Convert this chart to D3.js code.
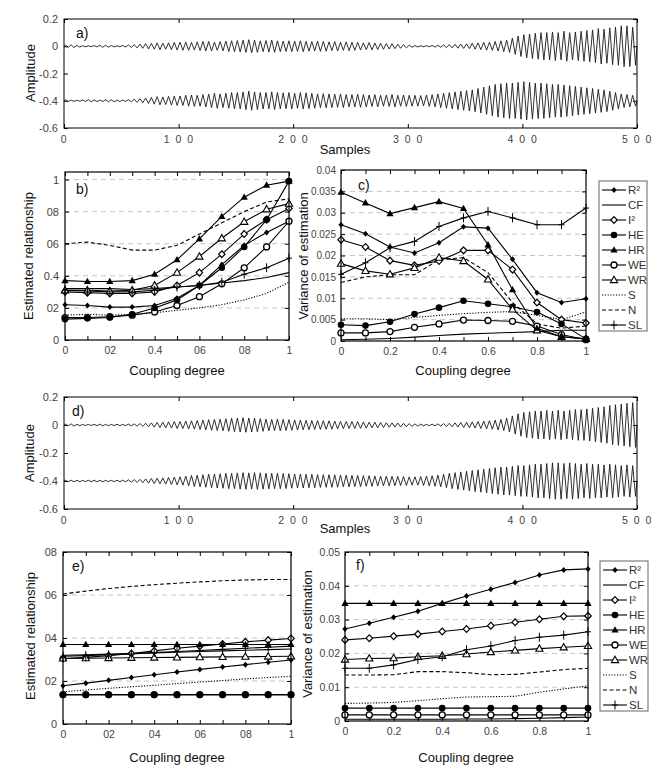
<!DOCTYPE html>
<html><head><meta charset="utf-8">
<script src="https://cdn.jsdelivr.net/npm/d3@7"></script>
<style>body{margin:0;background:#fff}</style>
</head><body>
<svg id="chart" width="672" height="776"></svg>
<script>
// ---------------- DATA ----------------
const coupling = [0,0.1,0.2,0.3,0.4,0.5,0.6,0.7,0.8,0.9,1];
const seriesNames = ["R²","CF","I²","HE","HR","WE","WR","S","N","SL"];

// waveform panels: amplitude of each oscillation cycle (5 samples per cycle)
const samplesPerCycle = 5;
const waveCenters = [0, -0.4];
const waveXTicks = [0,100,200,300,400,500];
const waveXLabels = ["0","1 0 0","2 0 0","3 0 0","4 0 0","5 0 0"];
const waveYTicks = [0.2,0,-0.2,-0.4,-0.6];
const waveYLabels = ["0.2","0","-0.2","-0.4","-0.6"];

const waveA1 = [0.008,0.01,0.006,0.004,0.003,0.005,0.008,0.007,0.005,0.004,
 0.006,0.01,0.012,0.015,0.02,0.022,0.025,0.022,0.025,0.028,
 0.03,0.03,0.028,0.032,0.035,0.035,0.03,0.034,0.038,0.04,
 0.042,0.045,0.048,0.045,0.04,0.042,0.045,0.04,0.038,0.04,
 0.038,0.04,0.036,0.034,0.038,0.036,0.032,0.035,0.03,0.032,
 0.03,0.028,0.025,0.027,0.024,0.022,0.02,0.018,0.015,0.012,
 0.008,0.005,0.004,0.004,0.006,0.008,0.01,0.012,0.014,0.016,
 0.018,0.022,0.025,0.028,0.03,0.035,0.04,0.045,0.06,0.075,
 0.085,0.09,0.095,0.1,0.1,0.105,0.1,0.11,0.1,0.105,
 0.11,0.115,0.12,0.13,0.125,0.135,0.14,0.15,0.15,0.14];
const waveA2 = [0.006,0.005,0.004,0.006,0.008,0.006,0.005,0.007,0.008,0.006,
 0.005,0.008,0.012,0.015,0.02,0.025,0.03,0.028,0.032,0.035,
 0.035,0.04,0.042,0.04,0.045,0.05,0.055,0.05,0.055,0.06,
 0.06,0.065,0.07,0.065,0.06,0.06,0.065,0.06,0.058,0.06,
 0.055,0.06,0.058,0.055,0.05,0.052,0.05,0.048,0.05,0.045,
 0.045,0.048,0.045,0.042,0.045,0.04,0.042,0.045,0.04,0.042,
 0.04,0.04,0.038,0.042,0.045,0.05,0.055,0.06,0.065,0.07,
 0.075,0.08,0.09,0.1,0.11,0.12,0.125,0.13,0.13,0.135,
 0.14,0.135,0.13,0.13,0.125,0.12,0.12,0.115,0.11,0.105,
 0.1,0.095,0.09,0.085,0.08,0.07,0.06,0.05,0.045,0.04];
const waveD1 = [0.006,0.008,0.005,0.004,0.004,0.005,0.006,0.005,0.004,0.005,
 0.005,0.006,0.008,0.01,0.012,0.015,0.018,0.02,0.022,0.025,
 0.025,0.028,0.03,0.032,0.035,0.038,0.04,0.042,0.045,0.048,
 0.05,0.052,0.05,0.048,0.045,0.042,0.04,0.042,0.04,0.038,
 0.036,0.035,0.034,0.032,0.032,0.03,0.03,0.028,0.026,0.025,
 0.025,0.024,0.022,0.02,0.02,0.018,0.016,0.015,0.014,0.012,
 0.01,0.008,0.006,0.005,0.006,0.008,0.01,0.012,0.015,0.018,
 0.02,0.022,0.025,0.028,0.03,0.035,0.04,0.05,0.065,0.08,
 0.09,0.095,0.1,0.1,0.105,0.1,0.105,0.1,0.105,0.11,
 0.11,0.115,0.12,0.125,0.13,0.14,0.145,0.15,0.155,0.16];
const waveD2 = [0.005,0.006,0.005,0.004,0.005,0.006,0.005,0.004,0.005,0.006,
 0.006,0.008,0.01,0.012,0.015,0.018,0.02,0.022,0.025,0.028,
 0.03,0.035,0.04,0.042,0.045,0.048,0.05,0.052,0.055,0.055,
 0.058,0.06,0.058,0.06,0.058,0.056,0.055,0.055,0.054,0.052,
 0.05,0.05,0.048,0.048,0.046,0.045,0.045,0.044,0.042,0.042,
 0.04,0.04,0.038,0.038,0.036,0.035,0.035,0.034,0.032,0.032,
 0.03,0.03,0.032,0.035,0.038,0.042,0.048,0.055,0.06,0.065,
 0.07,0.075,0.08,0.085,0.09,0.095,0.1,0.1,0.105,0.11,
 0.11,0.115,0.12,0.12,0.125,0.13,0.13,0.125,0.13,0.125,
 0.12,0.125,0.12,0.12,0.115,0.12,0.115,0.11,0.115,0.11];

// panel b) estimated relationship
const bYTicks = [0,0.2,0.4,0.6,0.8,1];
const bYLabels = ["0","02","0.4","06","08","1"];
const bXLabels = ["0","02","0.4","06","08","1"];
const bR2 = [0.22,0.215,0.205,0.205,0.215,0.26,0.34,0.47,0.59,0.67,0.74];
const bCF = [0.32,0.32,0.32,0.315,0.32,0.33,0.34,0.355,0.37,0.39,0.42];
const bI2 = [0.30,0.295,0.29,0.29,0.30,0.34,0.42,0.535,0.66,0.75,0.82];
const bHE = [0.13,0.135,0.14,0.16,0.20,0.25,0.34,0.45,0.58,0.75,0.99];
const bHR = [0.37,0.365,0.365,0.37,0.41,0.50,0.63,0.77,0.89,0.965,0.99];
const bWE = [0.14,0.14,0.145,0.155,0.175,0.215,0.27,0.35,0.45,0.58,0.74];
const bWR = [0.31,0.31,0.305,0.31,0.34,0.42,0.52,0.634,0.737,0.815,0.85];
const bS  = [0.155,0.16,0.155,0.16,0.17,0.185,0.20,0.22,0.25,0.29,0.36];
const bN  = [0.60,0.61,0.59,0.56,0.56,0.59,0.66,0.73,0.80,0.86,0.88];
const bSL = [0.31,0.305,0.30,0.30,0.31,0.33,0.34,0.36,0.41,0.45,0.51];

// panel c) variance of estimation
const cYTicks = [0,0.005,0.01,0.015,0.02,0.025,0.03,0.035,0.04];
const cYLabels = ["0","0.005","0.01","0.015","0.02","0.025","0.03","0.035","0.04"];
const cXLabels = ["0","0.2","0.4","0.6","0.8","1"];
const cR2 = [0.0272,0.0251,0.022,0.0206,0.023,0.0267,0.0264,0.0191,0.0113,0.009,0.0099];
const cCF = [0.0003,0.0004,0.0006,0.0009,0.0013,0.0016,0.0018,0.002,0.0022,0.0025,0.0025];
const cI2 = [0.0237,0.022,0.0188,0.0177,0.0187,0.0212,0.0212,0.0167,0.009,0.005,0.0042];
const cHE = [0.0038,0.0036,0.0045,0.0063,0.0078,0.0094,0.0087,0.008,0.0068,0.004,0.0005];
const cHR = [0.0348,0.0323,0.0298,0.0312,0.0326,0.031,0.0225,0.012,0.003,0.001,0.0005];
const cWE = [0.0019,0.0019,0.0022,0.0032,0.004,0.0049,0.0048,0.0046,0.0035,0.0015,0.0003];
const cWR = [0.0181,0.0164,0.0156,0.0171,0.0195,0.0187,0.0144,0.0074,0.0025,0.001,0.0005];
const cS  = [0.0052,0.0052,0.005,0.0055,0.006,0.0064,0.0067,0.0069,0.006,0.005,0.0068];
const cN  = [0.0137,0.015,0.0155,0.0155,0.019,0.0195,0.016,0.009,0.004,0.003,0.0035];
const cSL = [0.0156,0.0183,0.0218,0.0233,0.0268,0.0288,0.0303,0.0288,0.0272,0.0272,0.0311];

// panel e) estimated relationship
const eYTicks = [0,0.2,0.4,0.6,0.8];
const eYLabels = ["0","02","04","06","08"];
const eXLabels = ["0","02","04","06","08","1"];
const eR2 = [0.178,0.19,0.203,0.216,0.229,0.242,0.254,0.265,0.276,0.287,0.298];
const eCF = [0.32,0.322,0.325,0.328,0.331,0.334,0.337,0.34,0.343,0.346,0.349];
const eI2 = [0.305,0.31,0.318,0.328,0.34,0.352,0.362,0.372,0.382,0.39,0.398];
const eHE = [0.135,0.135,0.135,0.135,0.135,0.135,0.135,0.135,0.135,0.135,0.135];
const eHR = [0.37,0.37,0.37,0.37,0.37,0.37,0.37,0.37,0.37,0.37,0.37];
const eWE = [0.137,0.137,0.137,0.137,0.137,0.137,0.137,0.137,0.137,0.137,0.137];
const eWR = [0.305,0.306,0.307,0.308,0.309,0.31,0.311,0.312,0.313,0.314,0.315];
const eS  = [0.15,0.158,0.166,0.173,0.18,0.188,0.195,0.202,0.21,0.216,0.222];
const eN  = [0.605,0.618,0.63,0.64,0.648,0.655,0.661,0.666,0.67,0.672,0.672];
const eSL = [0.315,0.318,0.322,0.326,0.332,0.337,0.342,0.347,0.352,0.357,0.362];

// panel f) variance of estimation
const fYTicks = [0,0.01,0.02,0.03,0.04,0.05];
const fYLabels = ["0","0.01","0.02","0.03","0.04","0.05"];
const fXLabels = ["0","0.2","0.4","0.6","0.8","1"];
const fR2 = [0.0272,0.0289,0.0307,0.0325,0.0348,0.037,0.039,0.041,0.0432,0.0447,0.045];
const fCF = [0.0005,0.0005,0.0005,0.0005,0.0005,0.0006,0.0006,0.0007,0.0008,0.001,0.0012];
const fI2 = [0.024,0.0245,0.0251,0.0257,0.0265,0.0272,0.0282,0.0292,0.0301,0.031,0.0311];
const fHE = [0.0038,0.0038,0.0038,0.0038,0.0038,0.0038,0.0038,0.0038,0.0038,0.0038,0.0038];
const fHR = [0.0348,0.0348,0.0348,0.0348,0.0348,0.0348,0.0348,0.0348,0.0348,0.0348,0.0348];
const fWE = [0.0018,0.0018,0.0018,0.0018,0.0018,0.0018,0.0018,0.0018,0.0018,0.0018,0.0018];
const fWR = [0.0182,0.0185,0.0186,0.019,0.0193,0.0198,0.0204,0.0209,0.0214,0.0218,0.0222];
const fS  = [0.0052,0.0053,0.0055,0.006,0.0066,0.0071,0.0072,0.0073,0.0085,0.0095,0.0104];
const fN  = [0.0136,0.0136,0.0137,0.0146,0.0146,0.0143,0.0137,0.0138,0.0145,0.0152,0.0156];
const fSL = [0.0156,0.0156,0.0166,0.0182,0.019,0.0211,0.0222,0.0238,0.0248,0.0254,0.0264];

// ---------------- DRAWING ----------------
const FONT = "'Liberation Sans', Arial, Helvetica, sans-serif";
const svg = d3.select("#chart");
svg.append("rect").attr("width",672).attr("height",776).attr("fill","#fff");

function styleAxis(g, size) {
  g.select(".domain").remove();
  g.selectAll(".tick line").attr("stroke","#000").attr("stroke-width",1);
  g.selectAll("text").attr("font-family",FONT).attr("font-size",size||11).attr("fill","#444");
}

function frameAndTitles(c) {
  const g = svg.append("g");
  g.append("text").attr("transform",`translate(${c.ytx},${c.yty}) rotate(-90)`)
    .attr("text-anchor","middle").attr("dominant-baseline","central")
    .attr("font-family",FONT).attr("font-size",13).attr("fill","#111").text(c.ytitle);
  g.append("text").attr("x",c.xtx).attr("y",c.xty)
    .attr("text-anchor","middle").attr("dominant-baseline","central")
    .attr("font-family",FONT).attr("font-size",13).attr("fill","#111").text(c.xtitle);
  g.append("text").attr("x",c.lx).attr("y",c.ly)
    .attr("dominant-baseline","central")
    .attr("font-family",FONT).attr("font-size",14).attr("fill","#111").text(c.letter);
}

function drawWave(c) {
  const x = d3.scaleLinear().domain([0,500]).range([c.L,c.R]);
  const y = d3.scaleLinear().domain([-0.6,0.2]).range([c.B,c.T]);
  const g = svg.append("g");
  g.append("g").attr("transform",`translate(0,${c.B})`)
    .call(d3.axisBottom(x).tickValues(waveXTicks).tickSizeInner(-4).tickSizeOuter(0).tickPadding(8)
      .tickFormat((d,i)=>waveXLabels[i])).call(s=>styleAxis(s,10.5))
    .selectAll("text").attr("letter-spacing","1.5px");
  g.append("g").attr("transform",`translate(0,${c.T})`)
    .call(d3.axisTop(x).tickValues(waveXTicks).tickSizeInner(-4).tickSizeOuter(0).tickFormat(""))
    .call(s=>styleAxis(s));
  g.append("g").attr("transform",`translate(${c.L},0)`)
    .call(d3.axisLeft(y).tickValues(waveYTicks).tickSizeInner(-4).tickSizeOuter(0).tickPadding(6)
      .tickFormat((d,i)=>waveYLabels[i])).call(s=>styleAxis(s,11));
  g.append("g").attr("transform",`translate(${c.R},0)`)
    .call(d3.axisRight(y).tickValues(waveYTicks).tickSizeInner(-4).tickSizeOuter(0).tickFormat(""))
    .call(s=>styleAxis(s));
  const line = d3.line().x(d=>x(d[0])).y(d=>y(d[1]));
  c.waves.forEach((amps,k) => {
    const ctr = waveCenters[k];
    const pts = [[0,ctr]];
    amps.forEach((a,i) => {
      pts.push([i*samplesPerCycle + samplesPerCycle*0.25, ctr + a]);
      pts.push([i*samplesPerCycle + samplesPerCycle*0.75, ctr - a]);
    });
    pts.push([500,ctr]);
    g.append("path").attr("d",line(pts)).attr("fill","none").attr("stroke","#1a1a1a").attr("stroke-width",0.9);
  });
  g.append("rect").attr("x",c.L).attr("y",c.T).attr("width",c.R-c.L).attr("height",c.B-c.T)
    .attr("fill","none").attr("stroke","#000").attr("stroke-width",1);
  frameAndTitles(c);
}

const lineDash = {"S":"1.2,1.6","N":"4,2.5"};

function drawMarker(g, name, px, py) {
  const st = "#000";
  switch(name) {
    case "R²":
      g.append("path").attr("d",`M${px},${py-3}L${px+2.6},${py}L${px},${py+3}L${px-2.6},${py}Z`).attr("fill",st);
      break;
    case "I²":
      g.append("path").attr("d",`M${px},${py-3.4}L${px+3.2},${py}L${px},${py+3.4}L${px-3.2},${py}Z`)
        .attr("fill","#fff").attr("stroke",st).attr("stroke-width",1.2);
      break;
    case "HE":
      g.append("circle").attr("cx",px).attr("cy",py).attr("r",3.3).attr("fill",st);
      break;
    case "HR":
      g.append("path").attr("d",`M${px},${py-3.8}L${px+3.6},${py+2.6}L${px-3.6},${py+2.6}Z`).attr("fill",st);
      break;
    case "WE":
      g.append("circle").attr("cx",px).attr("cy",py).attr("r",3).attr("fill","#fff").attr("stroke",st).attr("stroke-width",1.3);
      break;
    case "WR":
      g.append("path").attr("d",`M${px},${py-3.8}L${px+3.6},${py+2.6}L${px-3.6},${py+2.6}Z`)
        .attr("fill","#fff").attr("stroke",st).attr("stroke-width",1.1);
      break;
    case "SL":
      g.append("path").attr("d",`M${px},${py-4.5}V${py+4.5}M${px-3},${py}H${px+3}`).attr("stroke",st).attr("stroke-width",1);
      break;
  }
}

const drawOrder = ["CF","S","N","R²","I²","WE","HE","WR","HR","SL"];

function drawCoupling(c) {
  const x = d3.scaleLinear().domain([0,1]).range([c.L,c.R]);
  const y = d3.scaleLinear().domain([0,c.ymax]).range([c.B,c.T]);
  const g = svg.append("g");
  c.grid.forEach(v => {
    g.append("line").attr("x1",c.L).attr("x2",c.R).attr("y1",y(v)).attr("y2",y(v))
      .attr("stroke","#c4c4c4").attr("stroke-width",1).attr("stroke-dasharray","5,4");
  });
  const labelAt = (d) => {
    const idx = [0,0.2,0.4,0.6,0.8,1].findIndex(v=>Math.abs(v-d)<1e-6);
    return idx>=0 ? c.xLabels[idx] : "";
  };
  g.append("g").attr("transform",`translate(0,${c.B})`)
    .call(d3.axisBottom(x).tickValues(coupling).tickSizeInner(-4).tickSizeOuter(0).tickPadding(7)
      .tickFormat(labelAt)).call(s=>styleAxis(s,10.5));
  g.append("g").attr("transform",`translate(0,${c.T})`)
    .call(d3.axisTop(x).tickValues(coupling).tickSizeInner(-4).tickSizeOuter(0).tickFormat(""))
    .call(s=>styleAxis(s));
  g.append("g").attr("transform",`translate(${c.L},0)`)
    .call(d3.axisLeft(y).tickValues(c.yTicks).tickSizeInner(-4).tickSizeOuter(0).tickPadding(c.ypad||6)
      .tickFormat((d,i)=>c.yLabels[i])).call(s=>styleAxis(s,c.yfs||11));
  g.append("g").attr("transform",`translate(${c.R},0)`)
    .call(d3.axisRight(y).tickValues(c.yTicks).tickSizeInner(-4).tickSizeOuter(0).tickFormat(""))
    .call(s=>styleAxis(s));
  const line = d3.line().x((d,i)=>x(coupling[i])).y(d=>y(d));
  drawOrder.forEach(name => {
    const vals = c.series[name];
    g.append("path").attr("d",line(vals)).attr("fill","none").attr("stroke","#000")
      .attr("stroke-width",1.1).attr("stroke-dasharray",lineDash[name]||null);
  });
  drawOrder.forEach(name => {
    const vals = c.series[name];
    vals.forEach((v,i) => drawMarker(g,name,x(coupling[i]),y(v)));
  });
  g.append("rect").attr("x",c.L).attr("y",c.T).attr("width",c.R-c.L).attr("height",c.B-c.T)
    .attr("fill","none").attr("stroke","#000").attr("stroke-width",1.2);
  frameAndTitles(c);
}

function drawLegend(x0, y0) {
  const g = svg.append("g");
  const w = 48, h = 150;
  g.append("rect").attr("x",x0).attr("y",y0).attr("width",w).attr("height",h)
    .attr("fill","#fff").attr("stroke","#666").attr("stroke-width",1);
  seriesNames.forEach((name,i) => {
    const yy = y0 + 9 + i*15;
    g.append("line").attr("x1",x0+3).attr("x2",x0+27).attr("y1",yy).attr("y2",yy)
      .attr("stroke","#000").attr("stroke-width",1.1).attr("stroke-dasharray",lineDash[name]||null);
    drawMarker(g,name,x0+15,yy);
    g.append("text").attr("x",x0+29).attr("y",yy).attr("dominant-baseline","central")
      .attr("font-family",FONT).attr("font-size",11.5).attr("fill","#333").text(name);
  });
}

drawWave({L:64,R:637,T:19,B:128,waves:[waveA1,waveA2],
  ytitle:"Amplitude",ytx:30,yty:73,xtitle:"Samples",xtx:345,xty:149,letter:"a)",lx:76,ly:33});
drawWave({L:64,R:637,T:397,B:509,waves:[waveD1,waveD2],
  ytitle:"Amplitude",ytx:29,yty:453,xtitle:"Samples",xtx:345,xty:528,letter:"d)",lx:72,ly:411});

drawCoupling({L:65,R:289,T:172,B:340,ymax:1.047,yTicks:bYTicks,yLabels:bYLabels,xLabels:bXLabels,
  grid:[0.2,0.4,0.6,0.8,1],
  series:{"R²":bR2,"CF":bCF,"I²":bI2,"HE":bHE,"HR":bHR,"WE":bWE,"WR":bWR,"S":bS,"N":bN,"SL":bSL},
  ytitle:"Estimated relationship",ytx:28,yty:256,xtitle:"Coupling degree",xtx:177,xty:370,letter:"b)",lx:76,ly:189});
drawCoupling({L:341,R:586,T:170,B:341,ymax:0.04,yTicks:cYTicks,yLabels:cYLabels,xLabels:cXLabels,
  grid:[0.005,0.01,0.015,0.02,0.025,0.03,0.035],yfs:10,ypad:5,
  series:{"R²":cR2,"CF":cCF,"I²":cI2,"HE":cHE,"HR":cHR,"WE":cWE,"WR":cWR,"S":cS,"N":cN,"SL":cSL},
  ytitle:"Variance of estimation",ytx:303,yty:256,xtitle:"Coupling degree",xtx:463,xty:370,letter:"c)",lx:358,ly:185});
drawCoupling({L:63,R:291,T:552,B:724,ymax:0.8,yTicks:eYTicks,yLabels:eYLabels,xLabels:eXLabels,
  grid:[0.2,0.4,0.6],
  series:{"R²":eR2,"CF":eCF,"I²":eI2,"HE":eHE,"HR":eHR,"WE":eWE,"WR":eWR,"S":eS,"N":eN,"SL":eSL},
  ytitle:"Estimated relationship",ytx:30,yty:636,xtitle:"Coupling degree",xtx:177,xty:757,letter:"e)",lx:72,ly:566});
drawCoupling({L:345,R:588,T:552,B:721,ymax:0.05,yTicks:fYTicks,yLabels:fYLabels,xLabels:fXLabels,
  grid:[0.01,0.02,0.03,0.04],yfs:10.5,ypad:5,
  series:{"R²":fR2,"CF":fCF,"I²":fI2,"HE":fHE,"HR":fHR,"WE":fWE,"WR":fWR,"S":fS,"N":fN,"SL":fSL},
  ytitle:"Variance of estimation",ytx:307,yty:634,xtitle:"Coupling degree",xtx:466,xty:757,letter:"f)",lx:356,ly:565});

drawLegend(599,181);
drawLegend(600,561);
</script>
</body></html>
